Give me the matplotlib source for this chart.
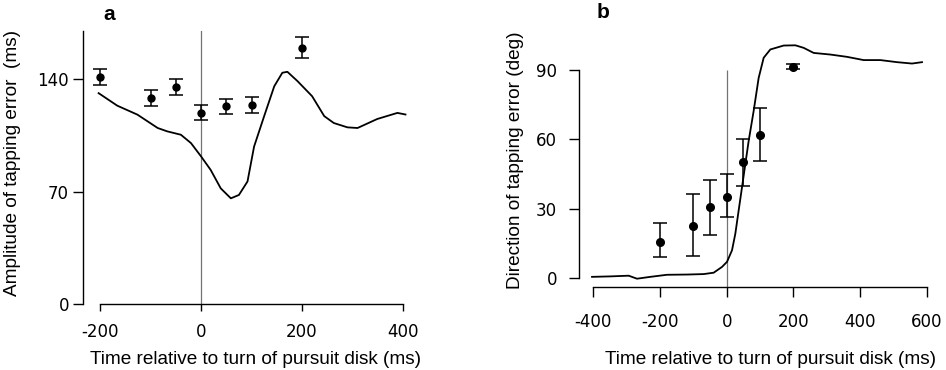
import numpy as np
import matplotlib
matplotlib.use("Agg")
import matplotlib.pyplot as plt

plt.rcParams['font.family'] = ['Liberation Sans', 'DejaVu Sans']

# tap times (ms relative to the turn)
tap_t = [-200, -100, -50, 0, 50, 100, 200]

# panel a: amplitude of tapping error
amp_mean = [141.4, 128.5, 135.2, 119.2, 123.1, 124.2, 159.6]
amp_err = [5.0, 5.0, 5.0, 4.5, 4.5, 5.0, 6.5]

amp_curve_t = [-203, -166, -126, -86, -67, -40, -20, 0, 19, 39, 59, 75, 92, 105,
               125, 145, 161, 171, 191, 220, 244, 263, 290, 310, 349, 389, 405]
amp_curve_v = [131.3, 123.5, 117.9, 109.6, 107.5, 105.4, 100.2, 91.9, 83.5, 72.0,
               65.8, 67.9, 76.3, 98.0, 117.0, 135.6, 144.0, 144.6, 138.8, 129.4,
               117.0, 112.7, 110.0, 109.6, 115.2, 119.0, 118.0]

# panel b: direction of tapping error
dir_mean = [15.7, 22.6, 30.6, 34.9, 50.0, 61.8, 91.5]
dir_err_lo = [6.9, 13.0, 11.9, 8.5, 10.3, 11.4, 1.0]
dir_err_hi = [8.2, 13.8, 11.9, 10.2, 10.3, 11.6, 1.0]

dir_curve_t = [-404, -349, -294, -269, -229, -179, -119, -69, -39, -14, 1, 16, 26,
               36, 46, 56, 66, 81, 96, 111, 131, 171, 206, 231, 261, 311, 361, 411,
               461, 511, 556, 586]
dir_curve_v = [0.4, 0.6, 0.9, -0.4, 0.4, 1.3, 1.4, 1.6, 2.2, 4.7, 6.9, 11.9, 19.1,
               29.2, 39.2, 49.3, 59.3, 72.3, 86.6, 95.3, 98.9, 100.6, 100.7, 99.6,
               97.4, 96.7, 95.7, 94.3, 94.3, 93.4, 92.8, 93.4]

xlabel = 'Time relative to turn of pursuit disk (ms)'
tickfont = {'family': 'DejaVu Sans', 'size': 12}

fig = plt.figure(figsize=(9.46, 3.70), dpi=100)
ax1 = fig.add_axes([0.0877, 0.1784, 0.3436, 0.7378])
ax2 = fig.add_axes([0.6124, 0.2243, 0.3707, 0.6676])

for ax in (ax1, ax2):
    for s in ('top', 'right'):
        ax.spines[s].set_visible(False)
    for s in ('left', 'bottom'):
        ax.spines[s].set_linewidth(1.0)
    ax.tick_params(direction='out', width=1.0)
    ax.set_xlabel(xlabel, fontsize=13.7)

# --- a ---
ax1.axvline(0, color='0.45', lw=0.9, zorder=1)
ax1.plot(amp_curve_t, amp_curve_v, color='black', lw=1.3)
ax1.errorbar(tap_t, amp_mean, yerr=amp_err, fmt='o', color='black', ms=5,
             capsize=5, elinewidth=1.1, capthick=1.1)
ax1.set_xlim(-234, 410)
ax1.set_ylim(0, 170)
ax1.spines['bottom'].set_bounds(-200, 400)
ax1.set_xticks([-200, 0, 200, 400])
ax1.set_yticks([0, 70, 140])
ax1.tick_params(axis='x', length=5, pad=9)
ax1.tick_params(axis='y', length=7, pad=3)
ax1.set_xticklabels(['-200', '0', '200', '400'], fontdict=tickfont)
ax1.set_yticklabels(['0', '70', '140'], fontdict=tickfont)
ax1.set_ylabel('Amplitude of tapping error  (ms)', fontsize=13.7)
ax1.xaxis.set_label_coords(0.53, -0.174)
ax1.yaxis.set_label_coords(-0.19, 0.516)
ax1.text(0.08, 1.06, 'a', transform=ax1.transAxes, fontsize=15,
         fontweight='bold', ha='center', va='center')

# --- b ---
ax2.vlines(0, -4, 90, color='0.45', lw=0.9, zorder=1)
ax2.plot(dir_curve_t, dir_curve_v, color='black', lw=1.3)
ax2.errorbar(tap_t, dir_mean, yerr=[dir_err_lo, dir_err_hi], fmt='o', color='black',
             ms=5.5, capsize=5, elinewidth=1.1, capthick=1.1)
ax2.set_xlim(-442, 610)
ax2.set_ylim(-4, 103)
ax2.spines['left'].set_bounds(0, 90)
ax2.spines['bottom'].set_bounds(-400, 600)
ax2.set_xticks([-400, -200, 0, 200, 400, 600])
ax2.set_yticks([0, 30, 60, 90])
ax2.tick_params(axis='x', length=7, pad=12)
ax2.tick_params(axis='y', length=7, pad=9)
ax2.set_xticklabels(['-400', '-200', '0', '200', '400', '600'], fontdict=tickfont)
ax2.set_yticklabels(['0', '30', '60', '90'], fontdict=tickfont)
ax2.set_ylabel('Direction of tapping error (deg)', fontsize=13.7)
ax2.xaxis.set_label_coords(0.545, -0.261)
ax2.yaxis.set_label_coords(-0.157, 0.514)
ax2.text(0.067, 1.11, 'b', transform=ax2.transAxes, fontsize=15,
         fontweight='bold', ha='center', va='center')

fig.savefig('out.png', dpi=100)
